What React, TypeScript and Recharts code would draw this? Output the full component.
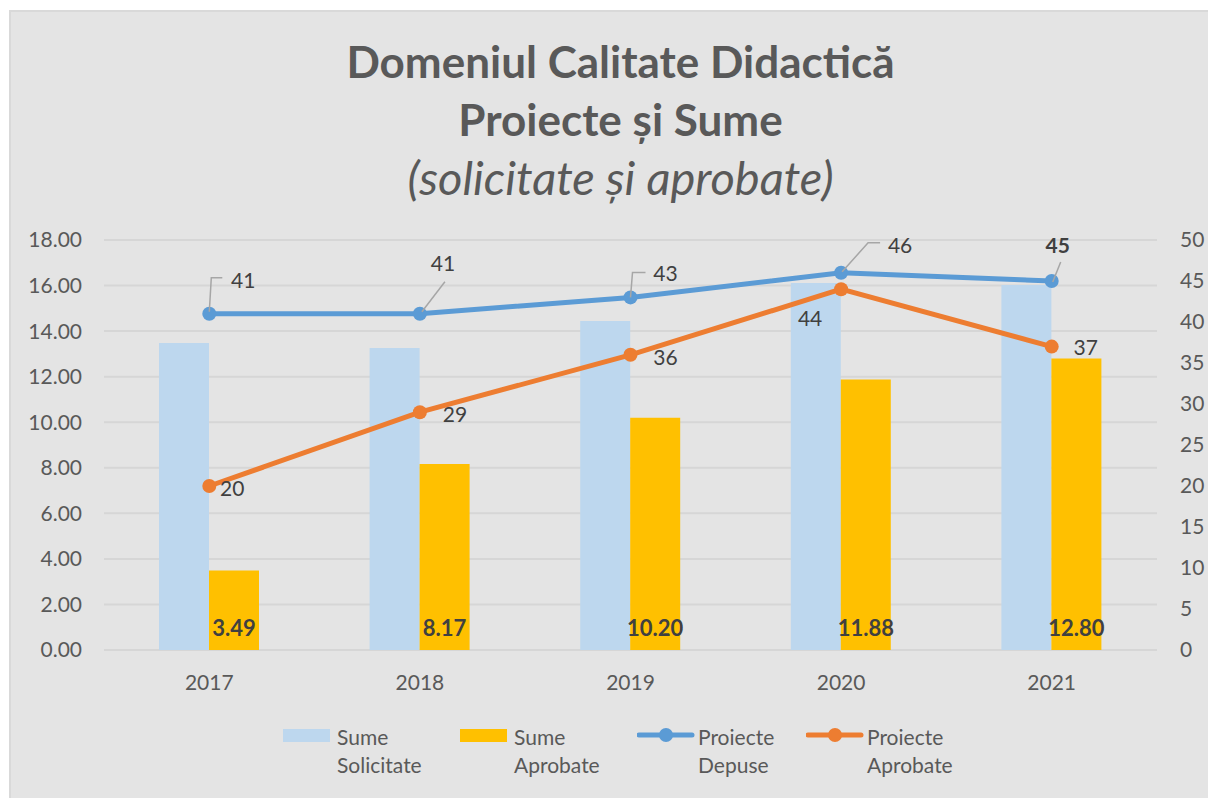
import { ComposedChart, Bar, Line, XAxis, YAxis, CartesianGrid, Legend, LabelList } from 'recharts'

const years = ['2017', '2018', '2019', '2020', '2021']
const sumeSolicitate = [13.48, 13.26, 14.44, 16.11, 16.02]
const sumeAprobate = [3.49, 8.17, 10.2, 11.88, 12.8]
const proiecteDepuse = [41, 41, 43, 46, 45]
const proiecteAprobate = [20, 29, 36, 44, 37]
const leftTicks = [0, 2, 4, 6, 8, 10, 12, 14, 16, 18]
const rightTicks = [0, 5, 10, 15, 20, 25, 30, 35, 40, 45, 50]
const seriesNames = ['Sume Solicitate', 'Sume Aprobate', 'Proiecte Depuse', 'Proiecte Aprobate']

const data = years.map((year, i) => ({
  year,
  solicitate: sumeSolicitate[i],
  aprobate: sumeAprobate[i],
  depuse: proiecteDepuse[i],
  aprobateProj: proiecteAprobate[i],
}))

const FONT = 'Lato, "Open Sans", sans-serif'
const TEXT = '#595959'
const LABEL = '#404040'

// label placement relative to the point (Excel moved these by hand)
const depuseLabels = [
  { tx: 34, ty: -34, leader: '0,-2 2,-36 13,-36' },
  { tx: 23, ty: -51, leader: '2,-2 25,-32' },
  { tx: 35, ty: -25, leader: '0,0 2,-25 15,-25' },
  { tx: 59, ty: -28, leader: '1,-1 27,-30 39,-30' },
  { tx: 6, ty: -37, leader: '1,1 9,-19', bold: true },
]
const aprobateLabels = [
  { tx: 23, ty: 1 },
  { tx: 35, ty: 1 },
  { tx: 35, ty: 2 },
  { tx: -31, ty: 28 },
  { tx: 34, ty: 0 },
]

const DepuseLabel = (props: any) => {
  const { x, y, value, index } = props
  const p = depuseLabels[index]
  const pts = p.leader
    .split(' ')
    .map((s: string) => {
      const [a, b] = s.split(',').map(Number)
      return `${x + a},${y + b}`
    })
    .join(' ')
  return (
    <g>
      <polyline points={pts} fill="none" stroke="#a6a6a6" strokeWidth={1.5} />
      <text
        x={x + p.tx}
        y={y + p.ty}
        textAnchor="middle"
        dominantBaseline="central"
        fill={LABEL}
        fontSize={21}
        fontWeight={p.bold ? 'bold' : 'normal'}
        fontFamily={FONT}
      >
        {value}
      </text>
    </g>
  )
}

const AprobateLabel = (props: any) => {
  const { x, y, value, index } = props
  const p = aprobateLabels[index]
  return (
    <text
      x={x + p.tx}
      y={y + p.ty}
      textAnchor="middle"
      dominantBaseline="central"
      fill={LABEL}
      fontSize={21}
      fontFamily={FONT}
    >
      {value}
    </text>
  )
}

const itemLeft = [0, 177, 354, 523]

const CustomLegend = (props: any) => {
  const payload = [...(props.payload || [])].sort(
    (a: any, b: any) => seriesNames.indexOf(a.value) - seriesNames.indexOf(b.value),
  )
  return (
    <div style={{ position: 'relative', height: 60, fontFamily: FONT, fontSize: 21, color: TEXT }}>
      {payload.map((entry: any, i: number) => {
        const isBar = entry.type === 'rect'
        const words = String(entry.value).split(' ')
        return (
          <div key={entry.value} style={{ position: 'absolute', left: itemLeft[i], top: 0, display: 'flex' }}>
            <svg width={isBar ? 54 : 61} height={28} style={{ flex: 'none' }}>
              {isBar ? (
                <rect x={0} y={6} width={47} height={13} fill={entry.color} />
              ) : (
                <g>
                  <line x1={2} y1={12} x2={55} y2={12} stroke={entry.color} strokeWidth={5} strokeLinecap="round" />
                  <circle cx={29} cy={12} r={7} fill={entry.color} />
                </g>
              )}
            </svg>
            <div style={{ lineHeight: '28px', whiteSpace: 'nowrap' }}>
              {words.map((w) => (
                <div key={w}>{w}</div>
              ))}
            </div>
          </div>
        )
      })}
    </div>
  )
}

export default function App() {
  return (
    <div
      style={{
        position: 'fixed',
        left: 9,
        top: 10,
        width: 1199,
        height: 788,
        background: '#e4e4e4',
        boxShadow: 'inset 2px 2px 0 #d9d9d9',
        fontFamily: FONT,
      }}
    >
      <div
        style={{
          position: 'absolute',
          left: 12,
          top: 22,
          width: 1199,
          textAlign: 'center',
          color: TEXT,
          lineHeight: '58px',
        }}
      >
        <div style={{ fontWeight: 'bold', fontSize: 44 }}>Domeniul Calitate Didactică</div>
        <div style={{ fontWeight: 'bold', fontSize: 44 }}>Proiecte și Sume</div>
        <div style={{ fontStyle: 'italic', fontSize: 47 }}>(solicitate și aprobate)</div>
      </div>
      <ComposedChart
        width={1199}
        height={788}
        data={data}
        margin={{ top: 230, right: 0, bottom: 118, left: 0 }}
        barGap={0}
        style={{ position: 'absolute', left: 0, top: 0 }}
      >
        <CartesianGrid yAxisId="left" vertical={false} stroke="#d6d6d6" strokeWidth={2} />
        <XAxis
          dataKey="year"
          axisLine={false}
          tickLine={false}
          tickSize={0}
          tickMargin={25}
          height={30}
          tick={{ fill: TEXT, fontSize: 21 }}
        />
        <YAxis
          yAxisId="left"
          domain={[0, 18]}
          ticks={leftTicks}
          tickFormatter={(v: number) => v.toFixed(2)}
          axisLine={false}
          tickLine={false}
          tickSize={0}
          tickMargin={22}
          width={95}
          tick={{ fill: TEXT, fontSize: 21 }}
        />
        <YAxis
          yAxisId="right"
          orientation="right"
          domain={[0, 50]}
          ticks={rightTicks}
          axisLine={false}
          tickLine={false}
          tickSize={0}
          tickMargin={23}
          width={51}
          tick={{ fill: TEXT, fontSize: 21, textAnchor: 'start' }}
        />
        <Bar yAxisId="left" dataKey="solicitate" name="Sume Solicitate" fill="#bdd7ee" barSize={50} legendType="rect" isAnimationActive={false} />
        <Bar yAxisId="left" dataKey="aprobate" name="Sume Aprobate" fill="#ffc000" barSize={50} legendType="rect" isAnimationActive={false}>
          <LabelList
            dataKey="aprobate"
            position="insideBottom"
            offset={14}
            formatter={(v: any) => Number(v).toFixed(2)}
            fill={LABEL}
            fontSize={22}
            fontWeight="bold"
          />
        </Bar>
        <Line
          yAxisId="right"
          dataKey="depuse"
          name="Proiecte Depuse"
          stroke="#5b9bd5"
          strokeWidth={5}
          dot={{ r: 7, fill: '#5b9bd5', stroke: 'none' }}
          activeDot={false}
          legendType="line"
          isAnimationActive={false}
        >
          <LabelList dataKey="depuse" content={DepuseLabel} />
        </Line>
        <Line
          yAxisId="right"
          dataKey="aprobateProj"
          name="Proiecte Aprobate"
          stroke="#ed7d31"
          strokeWidth={5}
          dot={{ r: 7, fill: '#ed7d31', stroke: 'none' }}
          activeDot={false}
          legendType="line"
          isAnimationActive={false}
        >
          <LabelList dataKey="aprobateProj" content={AprobateLabel} />
        </Line>
        <Legend
          layout="horizontal"
          verticalAlign="middle"
          align="center"
          content={CustomLegend}
          wrapperStyle={{ top: 713, left: 274, width: 700, height: 60 }}
        />
      </ComposedChart>
    </div>
  )
}
